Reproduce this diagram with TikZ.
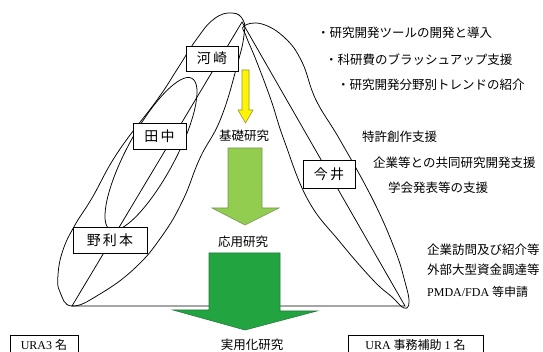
\documentclass[tikz,border=0pt]{standalone}
\usepackage{fontspec}
\setmainfont{Liberation Serif}
\newfontfamily\cjk{Noto Sans CJK JP}
\newfontfamily\cjkwide[LetterSpace=15]{Noto Sans CJK JP}
\definecolor{ylw}{RGB}{255,245,0}
\definecolor{ylwline}{RGB}{150,150,60}
\definecolor{lgreen}{RGB}{146,205,80}
\definecolor{lgline}{RGB}{120,150,90}
\definecolor{dgreen}{RGB}{34,165,65}
\definecolor{dgline}{RGB}{40,120,60}
\begin{document}
\begin{tikzpicture}[x=1pt,y=-1pt,
  edge/.style={line width=0.75pt},
  namebox/.style={draw, fill=white, line width=0.8pt, inner sep=0pt,
    font=\cjkwide\fontsize{14}{16}\selectfont},
  lbl/.style={inner sep=0pt, font=\cjk\fontsize{12.5}{14}\selectfont},
  rlbl/.style={inner sep=0pt, anchor=west, font=\cjk\fontsize{12.5}{14}\selectfont},
  urabox/.style={draw, fill=white, line width=0.6pt, inner sep=0pt}]
\useasboundingbox (0,0) rectangle (543,352);
\fill[white] (0,0) rectangle (543,352);
\coordinate (apex) at (242,22);
\coordinate (bl) at (72,306);
\coordinate (br) at (405,306);
% triangle sides
\draw[edge] (bl) -- (apex) -- (br) -- cycle;
% big left ellipse (Kawasaki)
\draw[edge] plot[smooth cycle, tension=0.75] coordinates {
  (72,306) (60,292) (58,275) (63,250) (75,225) (92,198) (118,152) (157,100)
  (178,68) (196,40) (214,19) (232,13) (243,20) (244,35) (238,62) (221,118)
  (200,158) (183,200) (162,236) (135,268) (100,294)};
% Tanaka ellipse
\draw[edge, rotate around={61.6:(151,154)}] (151,154) ellipse [x radius=86pt, y radius=24pt];
% right ellipse (Imai)
\draw[edge] plot[smooth cycle, tension=0.7] coordinates {
  (244,26) (262,24) (285,38) (302,62) (316,100) (340,140) (373,200)
  (395,250) (405,282) (409,302) (404,308) (392,297) (373,280) (340,242)
  (308,200) (284,140) (271,100) (256,60) (246,36)};
% arrows
\coordinate (ya1) at (242,70);
\draw[ylwline, fill=ylw, line width=0.6pt]
  (242,70) -- (249,70) -- (249,110) -- (253,110) -- (245.5,123) -- (238,110) -- (242,110) -- cycle;
\draw[lgline, fill=lgreen, line width=0.6pt]
  (228,148) -- (262,148) -- (262,208) -- (279,208) -- (245,225) -- (212,208) -- (228,208) -- cycle;
\draw[dgline, fill=dgreen, line width=0.6pt]
  (209,253) -- (280,253) -- (280,311) -- (317,311) -- (245,330) -- (173,310) -- (209,310) -- cycle;
% name boxes
\node[namebox, minimum width=52pt, minimum height=25pt] (kawasaki) at (212,58.5) {河崎};
\node[namebox, minimum width=53pt, minimum height=26pt] (tanaka) at (159.5,136) {田中};
\node[namebox, minimum width=74pt, minimum height=26pt] (nori) at (110,240) {野利本};
\node[namebox, minimum width=52pt, minimum height=28pt] (imai) at (329,174) {今井};
% stage labels
\node[lbl] (kiso) at (244,136) {基礎研究};
\node[lbl] (oyo) at (243,242) {応用研究};
\node[lbl] (jitsu) at (252,345) {実用化研究};
% right labels
\node[rlbl] (r1) at (317,33) {・研究開発ツールの開発と導入};
\node[rlbl] (r2) at (325,60) {・科研費のブラッシュアップ支援};
\node[rlbl] (r3) at (337,85) {・研究開発分野別トレンドの紹介};
\node[rlbl] (r4) at (362,137) {特許創作支援};
\node[rlbl] (r5) at (373,163) {企業等との共同研究開発支援};
\node[rlbl] (r6) at (388,188) {学会発表等の支援};
\node[rlbl] (r7) at (427,250) {企業訪問及び紹介等};
\node[rlbl] (r8) at (427,270) {外部大型資金調達等};
\node[rlbl] (r9) at (427,292) {\fontsize{12}{14}\fontspec{Liberation Serif}PMDA/FDA \cjk 等申請};
% bottom boxes
\node[urabox, minimum width=68pt, minimum height=19pt, font=\fontsize{12}{14}\selectfont] (ura3) at (44,344.5) {URA3 {\cjk 名}};
\node[urabox, minimum width=135pt, minimum height=19pt, font=\fontsize{12}{14}\selectfont] (uraj) at (415.5,344.5) {URA {\cjk 事務補助} 1 {\cjk 名}};
\end{tikzpicture}
\end{document}
